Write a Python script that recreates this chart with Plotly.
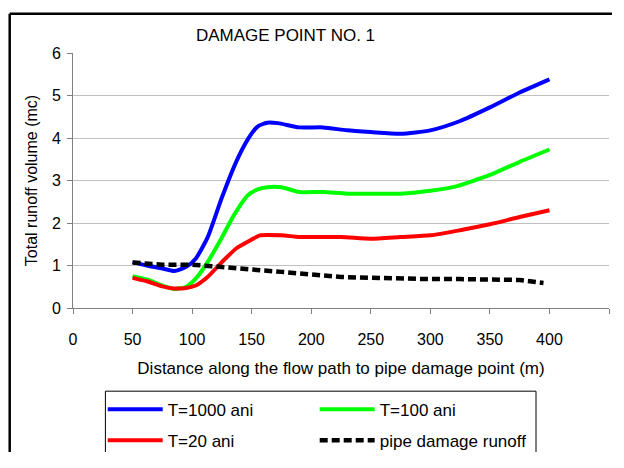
import plotly.graph_objects as go

# T=1000 ani
x_t1000 = [50, 62, 75, 85, 95, 103, 113, 125, 137, 147, 155, 163, 172, 190, 210, 230, 250, 275, 300, 325, 350, 375, 400]
y_t1000 = [1.08, 1.0, 0.93, 0.87, 0.97, 1.16, 1.66, 2.6, 3.44, 3.98, 4.27, 4.36, 4.35, 4.25, 4.25, 4.18, 4.14, 4.1, 4.18, 4.4, 4.72, 5.07, 5.38]

# T=100 ani
x_t100 = [50, 62, 75, 85, 95, 103, 113, 125, 135, 147, 155, 163, 175, 190, 210, 230, 250, 275, 300, 320, 350, 375, 400]
y_t100 = [0.75, 0.67, 0.53, 0.45, 0.5, 0.69, 1.08, 1.66, 2.18, 2.66, 2.79, 2.84, 2.84, 2.73, 2.73, 2.69, 2.69, 2.69, 2.76, 2.85, 3.13, 3.44, 3.73]

# T=20 ani
x_t20 = [50, 62, 75, 85, 95, 103, 113, 125, 137, 150, 157, 175, 190, 225, 250, 275, 300, 325, 350, 375, 400]
y_t20 = [0.71, 0.63, 0.51, 0.46, 0.47, 0.53, 0.73, 1.08, 1.4, 1.61, 1.71, 1.71, 1.67, 1.67, 1.63, 1.67, 1.71, 1.83, 1.97, 2.14, 2.3]

# pipe damage runoff
x_pipe = [50, 75, 100, 125, 150, 175, 200, 225, 250, 275, 300, 325, 350, 375, 395]
y_pipe = [1.07, 1.02, 1.02, 0.97, 0.91, 0.85, 0.79, 0.73, 0.71, 0.69, 0.68, 0.68, 0.68, 0.66, 0.59]

x_ticks = [0, 50, 100, 150, 200, 250, 300, 350, 400, 450]
y_ticks = [0, 1, 2, 3, 4, 5, 6]

FONT = "Liberation Sans, Arial, sans-serif"

# page body margin offset (target pixel -> figure pixel)
OFF = 8
W, H = 604, 444
L, R, T, B = 73.3 - OFF, 609.3 - OFF, 52.5 - OFF, 308.5 - OFF
pw, ph = R - L, B - T

def px(xt):
    return (xt - OFF - L) / pw

def py(yt):
    return (B - (yt - OFF)) / ph

fig = go.Figure()
fig.add_trace(go.Scatter(x=x_t1000, y=y_t1000, mode="lines", name="T=1000 ani",
                         line=dict(color="#0000FF", width=4, shape="spline", smoothing=0.6), legend="legend"))
fig.add_trace(go.Scatter(x=x_t100, y=y_t100, mode="lines", name="T=100 ani",
                         line=dict(color="#00FF00", width=4, shape="spline", smoothing=0.6), legend="legend"))
fig.add_trace(go.Scatter(x=x_t20, y=y_t20, mode="lines", name="T=20 ani",
                         line=dict(color="#FF0000", width=4, shape="spline", smoothing=0.6), legend="legend2"))
fig.add_trace(go.Scatter(x=x_pipe, y=y_pipe, mode="lines", name="pipe damage runoff",
                         line=dict(color="#000000", width=4.5, dash="8px,4px"), legend="legend2"))

leg_common = dict(orientation="h", xanchor="left", yanchor="middle", entrywidth=142, itemwidth=55,
                  font=dict(family=FONT, size=17, color="#000000"), bgcolor="rgba(0,0,0,0)",
                  borderwidth=0, itemclick=False, itemdoubleclick=False)

fig.update_layout(
    width=W, height=H,
    margin=dict(l=L, r=W - R, t=T, b=H - B, autoexpand=False),
    paper_bgcolor="white", plot_bgcolor="white",
    font=dict(family=FONT, size=16, color="#000000"),
    title=dict(text="DAMAGE POINT NO. 1", x=px(285.8), xanchor="center", xref="paper",
               y=1 - (35 - OFF) / H, yanchor="middle", font=dict(family=FONT, size=17, color="#000000")),
    legend=dict(x=px(103), y=py(410.7), **leg_common),
    legend2=dict(x=px(103), y=py(441.7), **leg_common),
    showlegend=True,
    xaxis=dict(range=[0, 450], tickvals=x_ticks, ticktext=[str(v) for v in x_ticks],
               showgrid=False, zeroline=False, showline=True, linecolor="#808080", linewidth=1,
               ticks="outside", ticklen=5, tickcolor="#808080", ticklabelstandoff=12,
               tickfont=dict(family=FONT, size=16),
               title=dict(text="Distance along the flow path to pipe damage point (m)",
                          font=dict(family=FONT, size=17), standoff=14)),
    yaxis=dict(range=[0, 6], tickvals=y_ticks, ticktext=[str(v) for v in y_ticks],
               showgrid=True, gridcolor="#C0C0C0", gridwidth=1, zeroline=False,
               showline=True, linecolor="#808080", linewidth=1,
               ticks="outside", ticklen=5, tickcolor="#808080", ticklabelstandoff=3,
               tickfont=dict(family=FONT, size=16),
               title=dict(text="Total runoff volume (mc)", font=dict(family=FONT, size=16), standoff=10)),
    shapes=[
        dict(type="line", xref="paper", yref="paper", x0=px(10), x1=px(10), y0=py(470), y1=py(13),
             line=dict(color="#000000", width=2.5), layer="below"),
        dict(type="line", xref="paper", yref="paper", x0=px(10), x1=px(624), y0=py(13), y1=py(13),
             line=dict(color="#000000", width=2.5), layer="below"),
        dict(type="rect", xref="paper", yref="paper", x0=px(105.7), x1=px(536.3), y0=py(457.3), y1=py(392),
             line=dict(color="#000000", width=1), fillcolor="rgba(0,0,0,0)", layer="above"),
    ],
)

fig.write_html("out.html")
